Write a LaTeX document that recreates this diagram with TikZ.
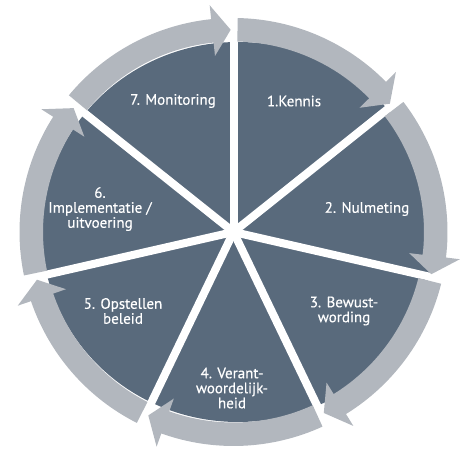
\documentclass[tikz,border=0pt]{standalone}
\usepackage{fontspec}
\setmainfont{PT Sans}
\newfontfamily\lblfont{PT Sans}[FakeBold=0.35]
\definecolor{slate}{RGB}{89,106,124}
\definecolor{ringgray}{RGB}{178,183,190}
\tikzset{
  lbl/.style={text=white, align=center, font=\lblfont\fontsize{15}{15}\selectfont, inner sep=0pt},
  gapline/.style={draw=white, line width=8pt},
  ringseg/.style={fill=ringgray, draw=none}
}
\newcommand{\ringsegment}[2]{% #1 start gap angle, #2 end gap angle
  \pgfmathsetmacro{\aS}{#1-1.14}
  \pgfmathsetmacro{\aB}{#2+6}
  \pgfmathsetmacro{\aT}{#2+0.8}
  \fill[ringseg] (C) ++(\aS:214) arc[start angle=\aS, end angle=\aB, radius=214]
    -- ($(C)+(\aB:228)$) -- ($(C)+(\aT:202.25)$) -- ($(C)+(\aB:177)$)
    -- ($(C)+(\aB:190.5)$) arc[start angle=\aB, end angle=\aS, radius=190.5] -- cycle;
}
\usetikzlibrary{calc}
\begin{document}
\begin{tikzpicture}[x=1pt,y=1pt]
\useasboundingbox (0,0) rectangle (464,468);
\coordinate (C) at (233.5,236);
% dark disc
\fill[slate] ($(C)+(4.5,0)$) ellipse[x radius=196, y radius=190];
% white gaps
\foreach \k in {0,...,6} {
  \pgfmathsetmacro{\ang}{90-51.428571*\k}
  \draw[gapline] (C) -- ++(\ang:240);
}
% ring segments with arrowheads
\foreach \k in {1,...,7} {
  \pgfmathsetmacro{\sa}{90-51.428571*(\k-1)}
  \pgfmathsetmacro{\ea}{90-51.428571*\k}
  \ringsegment{\sa}{\ea}
}
% labels
\node[lbl] (n7) at (173,367) {7. Monitoring};
\node[lbl] (n1) at (294,367) {1.Kennis};
\node[lbl] (n2) at (367,259) {2. Nulmeting};
\node[lbl] (n3) at (344,157) {3. Bewust-\\wording};
\node[lbl] (n4) at (232,80) {4. Verant-\\woordelijk-\\heid};
\node[lbl] (n5) at (123,157) {5. Opstellen\\beleid};
\node[lbl] (n6) at (100,259) {6.\\Implementatie /\\uitvoering};
\end{tikzpicture}
\end{document}
